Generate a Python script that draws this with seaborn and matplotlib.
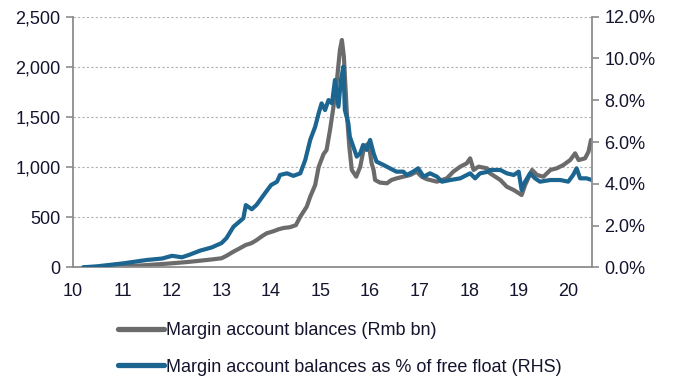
import matplotlib
matplotlib.use("Agg")
import matplotlib.pyplot as plt
import seaborn as sns
import pandas as pd
from matplotlib.ticker import FuncFormatter, MultipleLocator

# ---- data (year index: 10 = 2010) ----
margin_x = [10.21, 10.5, 11.0, 11.5, 12.0, 12.3, 12.57, 12.8, 13.0, 13.1, 13.24, 13.35,
            13.49, 13.6, 13.71, 13.8, 13.91, 14.05, 14.15, 14.25, 14.38, 14.5, 14.59,
            14.72, 14.79, 14.89, 14.96, 15.06, 15.12, 15.19, 15.26, 15.33, 15.39, 15.43,
            15.47, 15.53, 15.58, 15.63, 15.72, 15.80, 15.88, 15.97, 16.03, 16.07, 16.10,
            16.20, 16.34, 16.43, 16.54, 16.67, 16.81, 16.94, 17.04, 17.14, 17.35, 17.55,
            17.68, 17.82, 17.95, 18.02, 18.09, 18.19, 18.36, 18.42, 18.63, 18.76, 18.9,
            19.06, 19.13, 19.27, 19.37, 19.5, 19.64, 19.77, 19.9, 20.04, 20.14, 20.21,
            20.34, 20.41, 20.46]
margin_bn = [0, 2, 8, 22, 40, 52, 66, 78, 90, 115, 156, 185,
             223, 240, 272, 305, 339, 360, 379, 392, 400, 420, 505,
             605, 704, 820, 1000, 1130, 1170, 1370, 1602, 1868, 2168, 2268,
             2101, 1536, 1203, 971, 904, 1004, 1203, 1237, 1037, 971, 871,
             845, 838, 871, 888, 904, 921, 954, 904, 880, 854, 888,
             954, 1004, 1037, 1087, 971, 1004, 988, 938, 871, 804, 771,
             721, 821, 971, 921, 904, 971, 988, 1020, 1070, 1137, 1070,
             1087, 1153, 1270]

float_x = [10.21, 10.5, 11.02, 11.49, 11.8, 12.0, 12.2, 12.35, 12.57, 12.8, 13.0, 13.1,
           13.24, 13.44, 13.49, 13.61, 13.71, 13.85, 14.0, 14.12, 14.18, 14.32, 14.45,
           14.59, 14.69, 14.79, 14.89, 14.96, 15.02, 15.09, 15.16, 15.23, 15.29, 15.36,
           15.41, 15.46, 15.49, 15.56, 15.59, 15.66, 15.73, 15.80, 15.86, 15.93, 16.0,
           16.07, 16.13, 16.27, 16.40, 16.53, 16.67, 16.74, 16.87, 16.97, 17.08, 17.21,
           17.35, 17.45, 17.62, 17.82, 18.02, 18.12, 18.22, 18.39, 18.42, 18.63, 18.76,
           18.9, 19.0, 19.06, 19.13, 19.23, 19.33, 19.43, 19.64, 19.84, 20.0, 20.1,
           20.17, 20.24, 20.37, 20.48]
float_pct = [0.0, 0.05, 0.19, 0.35, 0.42, 0.55, 0.48, 0.6, 0.80, 0.95, 1.16, 1.4,
             1.94, 2.35, 2.98, 2.78, 3.0, 3.46, 3.94, 4.1, 4.42, 4.5, 4.38,
             4.50, 5.14, 6.10, 6.73, 7.37, 7.85, 7.53, 8.01, 7.85, 8.97, 7.69,
             8.97, 9.61, 7.53, 6.90, 6.25, 5.78, 5.30, 5.46, 5.86, 5.62, 6.10,
             5.46, 5.06, 4.90, 4.74, 4.58, 4.58, 4.42, 4.58, 4.74, 4.34, 4.50,
             4.34, 4.10, 4.18, 4.26, 4.50, 4.26, 4.50, 4.58, 4.66, 4.66, 4.50,
             4.42, 4.58, 3.70, 4.10, 4.50, 4.26, 4.10, 4.18, 4.18, 4.10, 4.42,
             4.74, 4.26, 4.26, 4.18]

label_bn = "Margin account blances (Rmb bn)"
label_pct = "Margin account balances as % of free float (RHS)"
x_ticks = list(range(10, 21))

GRAY = "#6b6b6b"
BLUE = "#1b6590"
TXT = "#14142e"
SPINE = "#8c8c8c"

sns.set_style("white")
plt.rcParams["font.family"] = ["Liberation Sans", "DejaVu Sans"]

fig = plt.figure(figsize=(6.76, 3.80), dpi=100)
ax = fig.add_axes([0.108, 0.2966, 0.8757 - 0.108, 0.956 - 0.2966])
ax2 = ax.twinx()

df1 = pd.DataFrame({"x": margin_x, "y": margin_bn})
df2 = pd.DataFrame({"x": float_x, "y": float_pct})
sns.lineplot(data=df1, x="x", y="y", ax=ax, color=GRAY, linewidth=3.0,
             label=label_bn, legend=False, solid_joinstyle="round", solid_capstyle="round")
sns.lineplot(data=df2, x="x", y="y", ax=ax2, color=BLUE, linewidth=3.0,
             label=label_pct, legend=False, solid_joinstyle="round", solid_capstyle="round")

ax.set_xlim(10, 20.48)
ax.set_ylim(0, 2500)
ax2.set_ylim(0, 12)
ax.set_xticks(x_ticks)
ax.set_xticklabels([str(t) for t in x_ticks])
ax.yaxis.set_major_locator(MultipleLocator(500))
ax.yaxis.set_major_formatter(FuncFormatter(lambda v, p: f"{v:,.0f}"))
ax2.yaxis.set_major_locator(MultipleLocator(2))
ax2.yaxis.set_major_formatter(FuncFormatter(lambda v, p: f"{v:.1f}%"))
ax.set_xlabel("")
ax.set_ylabel("")
ax2.set_ylabel("")

for v in [500, 1000, 1500, 2000, 2500]:
    ax.axhline(v, color="#b0b0b0", linestyle=(0, (2, 2)), linewidth=0.8, zorder=0)

for a in (ax, ax2):
    a.spines["top"].set_visible(False)
    for s in ("left", "right", "bottom"):
        a.spines[s].set_color(SPINE)
        a.spines[s].set_linewidth(1.3)
    a.tick_params(axis="both", colors=SPINE, labelcolor=TXT, labelsize=13,
                  length=5, width=1.2, direction="out")
ax.spines["right"].set_visible(False)
ax2.spines["left"].set_visible(False)
ax2.spines["bottom"].set_visible(False)
ax.tick_params(axis="y", pad=4)
ax.tick_params(axis="x", pad=6)
ax2.tick_params(axis="y", pad=4)

h1, l1 = ax.get_legend_handles_labels()
h2, l2 = ax2.get_legend_handles_labels()
leg = fig.legend(h1 + h2, l1 + l2, loc="upper left", bbox_to_anchor=(0.174, 0.152),
                 frameon=False, fontsize=13, handlelength=2.55, handletextpad=0.15,
                 labelspacing=1.07, borderaxespad=0, borderpad=0)
for t in leg.get_texts():
    t.set_color(TXT)
for lh in leg.legend_handles:
    lh.set_linewidth(3.8)

fig.savefig("out.png", dpi=100)
